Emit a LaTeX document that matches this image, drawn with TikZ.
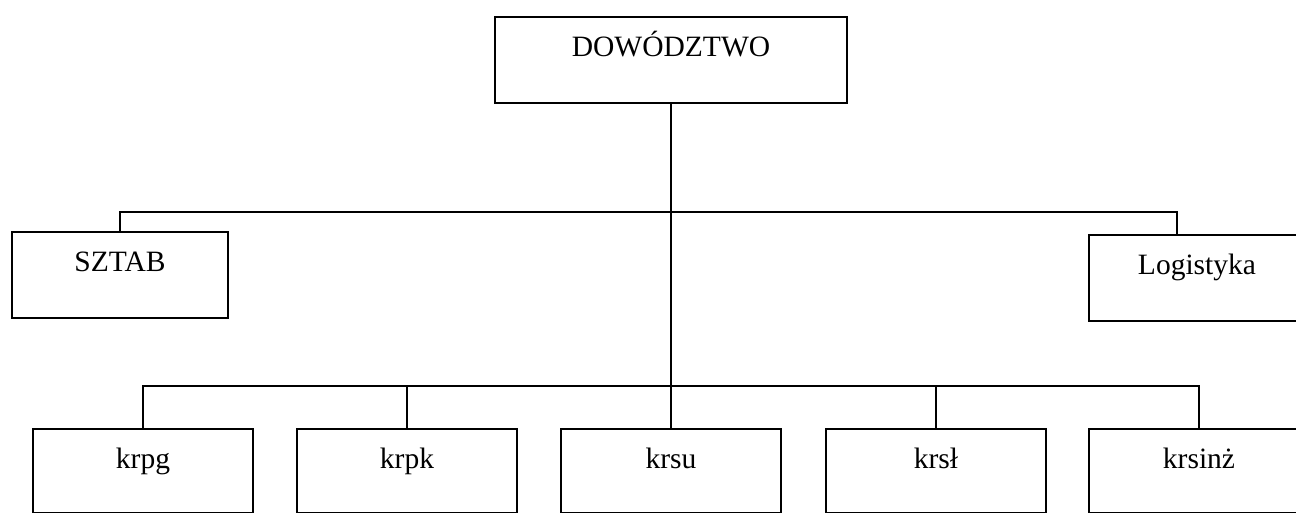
\documentclass[tikz,border=0pt]{standalone}
\usepackage{fontspec}
\setmainfont{Liberation Serif}
\usetikzlibrary{positioning}

\tikzset{
    unit/.style={draw, line width=1.1pt, inner sep=0pt, anchor=north,
        minimum width=4.32cm, text height=0.8cm, text depth=0.92cm,
        font=\fontsize{16.8}{20}\selectfont},
    subunit/.style={unit, minimum width=4.4cm, text depth=0.88cm},
    link/.style={line width=1.1pt}
}

\begin{document}
\begin{tikzpicture}[x=0.02cm, y=-0.02cm]
    \useasboundingbox (0,0) rectangle (1296,513);
    \clip (0,0) rectangle (1296,513);
    % command
    \node[unit, minimum width=7.04cm] (dow) at (671,16) {DOWÓDZTWO};
    % staff and logistics
    \node[unit] (sztab) at (120,231) {SZTAB};
    \node[unit] (log) at (1197,234) {Logistyka};
    % subordinate units
    \foreach \n/\t/\x in {krpg/krpg/143, krpk/krpk/407, krsu/krsu/671,
                          krsl/krsł/936, krsinz/krsinż/1199}
        {
            \node[subunit] (\n) at (\x,428) {\t};
        }
    % buses
    \coordinate (bus1) at (671,212);
    \coordinate (bus2) at (671,386);
    \coordinate (logtop) at ([xshift=-0.4cm]log.north);
    % connections
    \draw[link] (dow.south) -- (krsu.north);
    \draw[link] (sztab.north) |- (bus1) -| (logtop);
    \draw[link] (krpg.north) |- (bus2) -| (krsinz.north);
    \draw[link] (krpk.north) -- (krpk.north |- bus2);
    \draw[link] (krsl.north) -- (krsl.north |- bus2);
\end{tikzpicture}
\end{document}
